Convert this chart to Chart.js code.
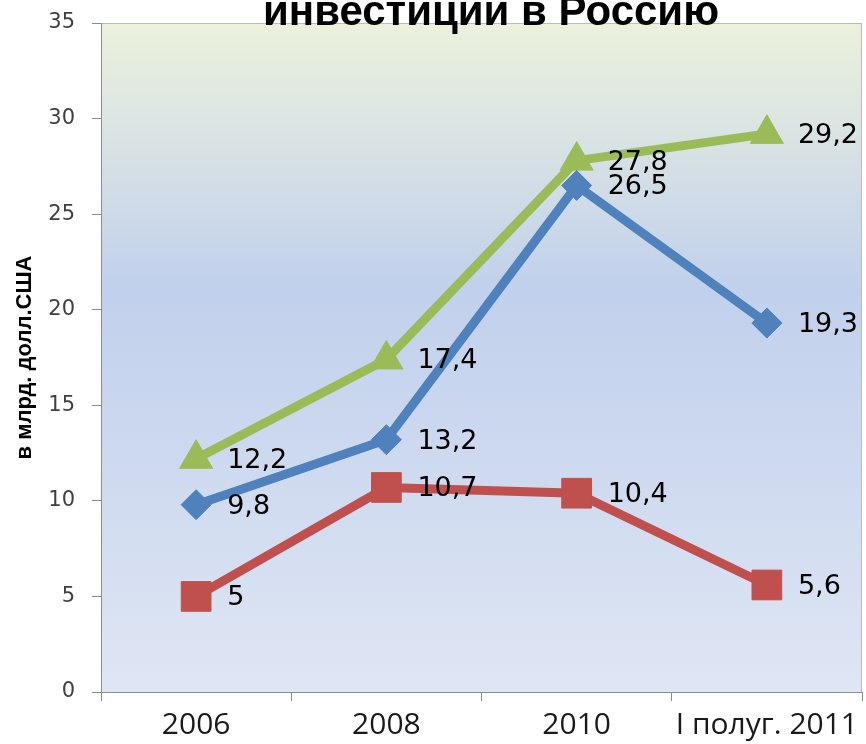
<!DOCTYPE html>
<html>
<head>
<meta charset="utf-8">
<script src="https://cdn.jsdelivr.net/npm/chart.js@4.4.0/dist/chart.umd.min.js"></script>
<style>
  html, body { margin: 0; padding: 0; background: #ffffff; }
  #wrap { width: 866px; height: 744px; }
</style>
</head>
<body>
<div id="wrap"><canvas id="myChart" width="866" height="744"></canvas></div>
<script>
// Données du graphique
const categories = ["2006", "2008", "2010", "I полуг. 2011"];
const blueValues = [9.8, 13.2, 26.5, 19.3];
const redValues = [5, 10.7, 10.4, 5.6];
const greenValues = [12.2, 17.4, 27.8, 29.2];
const yTicks = [0, 5, 10, 15, 20, 25, 30, 35];

const titleText = "инвестиции в Россию";
const yTitle = "в млрд. долл.США";

// fond dégradé de la zone du graphique + bordure grise
const plotBackground = {
  id: "plotBackground",
  beforeDraw(chart) {
    const { ctx, chartArea } = chart;
    const g = ctx.createLinearGradient(0, chartArea.top, 0, chartArea.bottom);
    g.addColorStop(0, "#ebf1dc");
    g.addColorStop(0.4, "#c1d0ec");
    g.addColorStop(1, "#dfe6f4");
    ctx.save();
    ctx.fillStyle = g;
    ctx.fillRect(chartArea.left, chartArea.top, chartArea.right - chartArea.left, chartArea.bottom - chartArea.top);
    ctx.strokeStyle = "#bcbcbc";
    ctx.lineWidth = 1;
    ctx.strokeRect(chartArea.left + 0.5, chartArea.top + 0.5, chartArea.right - chartArea.left - 1, chartArea.bottom - chartArea.top);
    ctx.restore();
  },
};

// étiquettes des valeurs à droite des points
const valueLabels = {
  id: "valueLabels",
  afterDatasetsDraw(chart) {
    const ctx = chart.ctx;
    ctx.save();
    ctx.font = "27px 'DejaVu Sans'";
    ctx.fillStyle = "#000000";
    ctx.textAlign = "left";
    ctx.textBaseline = "middle";
    chart.data.datasets.forEach((ds, i) => {
      const meta = chart.getDatasetMeta(i);
      meta.data.forEach((pt, j) => {
        const txt = String(ds.data[j]).replace(".", ",");
        ctx.fillText(txt, pt.x + 31, pt.y + 2);
      });
    });
    ctx.restore();
  },
};

// titre (coupé en haut comme sur l'original)
const topTitle = {
  id: "topTitle",
  afterDraw(chart) {
    const ctx = chart.ctx;
    ctx.save();
    ctx.font = "bold 42px 'Liberation Sans'";
    ctx.fillStyle = "#000000";
    ctx.textAlign = "center";
    ctx.textBaseline = "alphabetic";
    ctx.fillText(titleText, 491, 25);
    ctx.restore();
  },
};

function buildChart() {
  const chartData = {
    labels: categories,
    datasets: [
      {
        data: blueValues,
        borderColor: "#4f81bd",
        backgroundColor: "#4f81bd",
        borderWidth: 9,
        pointStyle: "rectRot",
        pointRadius: 15,
        pointBorderWidth: 1,
        pointBorderColor: "#4f81bd",
        pointBackgroundColor: "#4f81bd",
      },
      {
        data: redValues,
        borderColor: "#c0504d",
        backgroundColor: "#c0504d",
        borderWidth: 9,
        pointStyle: "rect",
        pointRadius: 21,
        pointBorderWidth: 1,
        pointBorderColor: "#c0504d",
        pointBackgroundColor: "#c0504d",
      },
      {
        data: greenValues,
        borderColor: "#9bbb59",
        backgroundColor: "#9bbb59",
        borderWidth: 9,
        pointStyle: "triangle",
        pointRadius: 19,
        pointBorderWidth: 1,
        pointBorderColor: "#9bbb59",
        pointBackgroundColor: "#9bbb59",
      },
    ],
  };

  const options = {
    responsive: false,
    maintainAspectRatio: false,
    animation: false,
    layout: { autoPadding: false, padding: { top: 23, right: 4, left: 0, bottom: 0 } },
    plugins: {
      legend: { display: false },
      title: { display: false },
      tooltip: { enabled: false },
    },
    scales: {
      x: {
        type: "category",
        offset: true,
        grid: {
          offset: true,
          drawOnChartArea: false,
          drawTicks: true,
          tickLength: 9,
          color: "#8c8c8c",
        },
        border: { display: true, color: "#8c8c8c" },
        ticks: {
          color: "#1a1a1a",
          font: { family: "'Open Sans'", size: 30 },
          padding: 6,
          maxRotation: 0,
          autoSkip: false,
        },
        afterFit: (scale) => {
          scale.height = 52;
          scale.paddingLeft = 0;
          scale.paddingRight = 0;
        },
      },
      y: {
        min: 0,
        max: 35,
        afterBuildTicks: (scale) => {
          scale.ticks = yTicks.map((v) => ({ value: v }));
        },
        grid: {
          drawOnChartArea: false,
          drawTicks: true,
          tickLength: 9,
          color: "#8c8c8c",
        },
        border: { display: true, color: "#8c8c8c" },
        ticks: {
          color: "#404040",
          font: { family: "'DejaVu Sans'", size: 21 },
          padding: 17,
        },
        title: {
          display: true,
          text: yTitle,
          color: "#000000",
          font: { family: "'Liberation Sans'", size: 22, weight: "bold" },
          padding: { top: 12, bottom: 0 },
        },
        afterFit: (scale) => {
          scale.width = 101;
          scale.paddingTop = 0;
          scale.paddingBottom = 0;
        },
      },
    },
  };

  const ctx = document.getElementById("myChart").getContext("2d");
  const myChart = new Chart(ctx, {
    type: "line",
    data: chartData,
    options: options,
    plugins: [plotBackground, valueLabels, topTitle],
  });
}

buildChart();
</script>
</body>
</html>
